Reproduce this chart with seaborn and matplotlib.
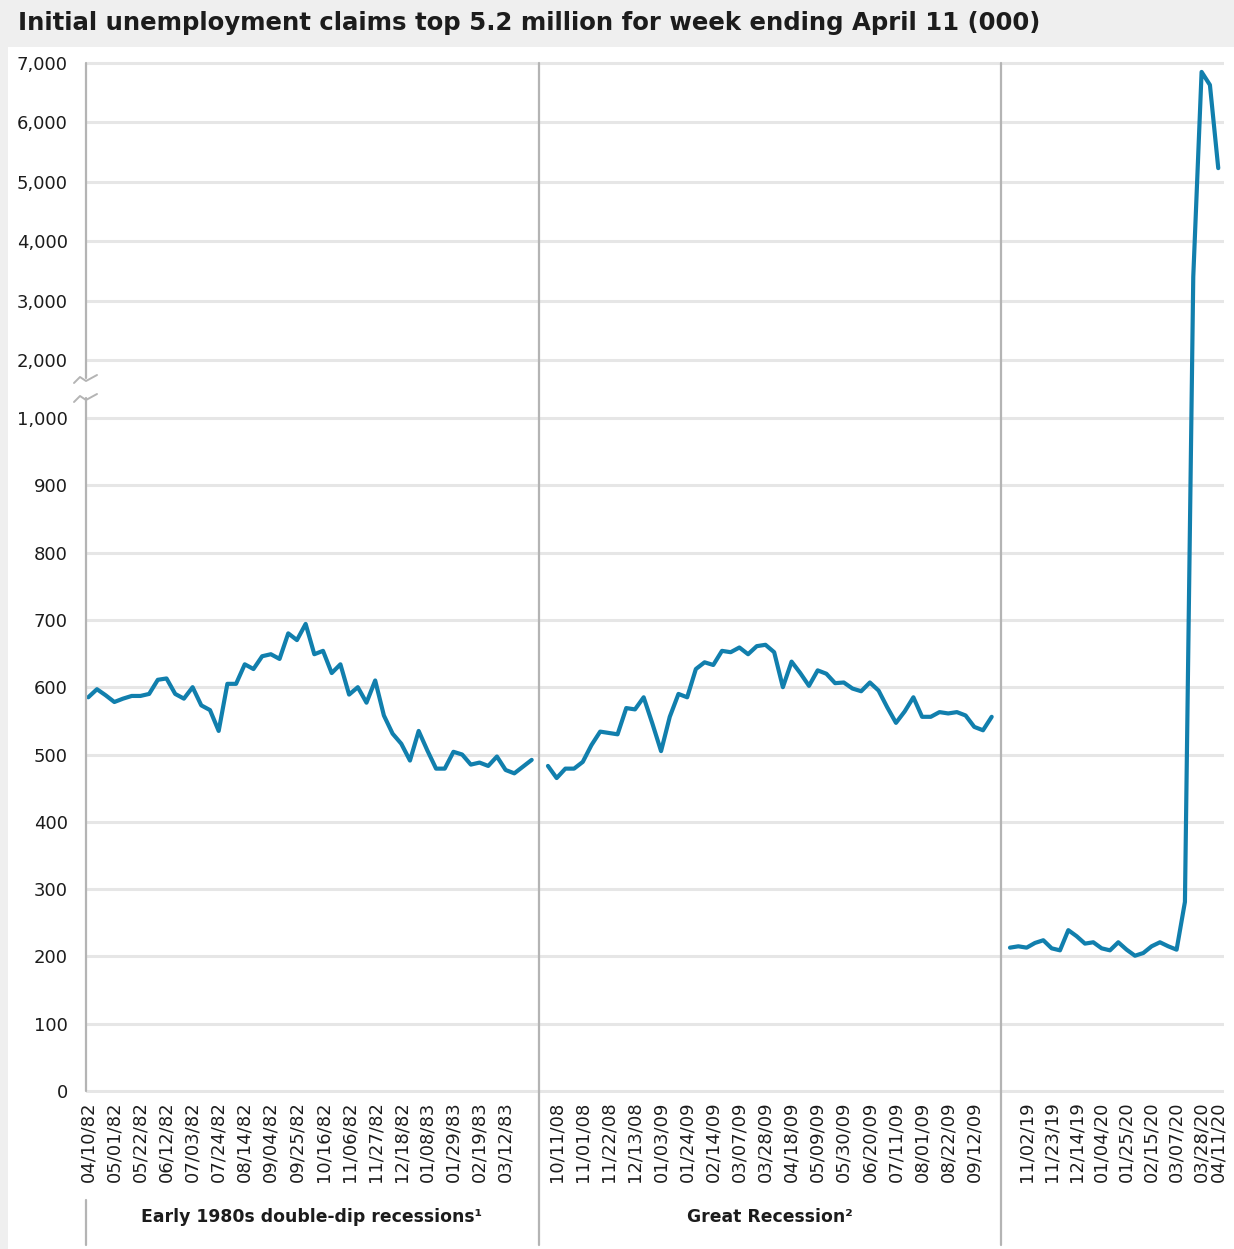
import numpy as np
import pandas as pd
import matplotlib
matplotlib.use("Agg")
import matplotlib.pyplot as plt
import seaborn as sns
from matplotlib.lines import Line2D
from matplotlib.patches import Rectangle

# ---------------- data ----------------
title = "Initial unemployment claims top 5.2 million for week ending April 11 (000)"

start1 = "1982-04-10"
claims1 = [585, 597, 588, 578, 583, 587, 587, 590, 611, 613,
           590, 583, 600, 573, 566, 535, 605, 605, 634, 627,
           646, 649, 642, 680, 670, 694, 649, 654, 621, 634,
           589, 600, 577, 610, 558, 531, 516, 491, 535, 506,
           479, 479, 504, 500, 485, 488, 483, 497, 477, 472,
           482, 492]
ticks1 = ["04/10/82", "05/01/82", "05/22/82", "06/12/82", "07/03/82", "07/24/82",
          "08/14/82", "09/04/82", "09/25/82", "10/16/82", "11/06/82", "11/27/82",
          "12/18/82", "01/08/83", "01/29/83", "02/19/83", "03/12/83"]

start2 = "2008-10-04"
claims2 = [483, 465, 479, 479, 489, 514, 534, 532, 530, 569,
           567, 585, 546, 505, 556, 590, 585, 627, 637, 633,
           654, 652, 659, 649, 661, 663, 652, 600, 638, 621,
           602, 625, 620, 606, 607, 598, 594, 607, 595, 570,
           547, 564, 585, 556, 556, 563, 561, 563, 558, 541,
           536, 556]
ticks2 = ["10/11/08", "11/01/08", "11/22/08", "12/13/08", "01/03/09", "01/24/09",
          "02/14/09", "03/07/09", "03/28/09", "04/18/09", "05/09/09", "05/30/09",
          "06/20/09", "07/11/09", "08/01/09", "08/22/09", "09/12/09"]

start3 = "2019-10-19"
claims3 = [213, 215, 213, 220, 224, 212, 209, 239, 230, 219,
           221, 212, 209, 221, 210, 201, 205, 215, 221, 215,
           210, 281, 3400, 6850, 6630, 5230]
ticks3 = ["11/02/19", "11/23/19", "12/14/19", "01/04/20", "01/25/20",
          "02/15/20", "03/07/20", "03/28/20", "04/11/20"]

segment_names = ["Early 1980s double-dip recessions\u00b9", "Great Recession\u00b2", ""]
yticks = [0, 100, 200, 300, 400, 500, 600, 700, 800, 900, 1000,
          2000, 3000, 4000, 5000, 6000, 7000]

# ---------------- style ----------------
sns.set_style("white")
plt.rcParams["font.family"] = ["DejaVu Sans"]

LINE_C = "#117fad"
GRID_C = "#e6e6e6"
AXIS_C = "#b4b4b4"
TEXT_C = "#1c1c1c"

W, H = 1234, 1249
fig = plt.figure(figsize=(W / 100, H / 100), dpi=100)
fig.patch.set_facecolor("white")

def fx(x):
    return x / W

def fy(y):
    return 1 - y / H

# gray frame (title band + left strip)
fig.add_artist(Rectangle((0, fy(47)), 1, 47 / H, transform=fig.transFigure,
                         facecolor="#efefef", edgecolor="none", zorder=0))
fig.add_artist(Rectangle((0, 0), 8 / W, 1, transform=fig.transFigure,
                         facecolor="#efefef", edgecolor="none", zorder=0))

# broken y scale (piecewise linear, in pixel-like units)
YV = [-1000, 0, 1000, 2000, 7000, 12000]
YP = [-673, 0, 673, 731, 1028, 1325]
fwd = lambda v: np.interp(v, YV, YP)
inv = lambda p: np.interp(p, YP, YV)

y_lo, y_hi = -3, 7050
base_px = 1091
ax_bot = base_px - fwd(y_lo)
ax_top = base_px - fwd(y_hi)

cols = [(86, 539, (-0.26, 51.84)), (539, 1001, (-1.03, 52.07)), (1001, 1224, (-1.08, 25.69))]
series = [(start1, claims1, ticks1), (start2, claims2, ticks2), (start3, claims3, ticks3)]
label_centers = [312, 770, None]

for k, ((l, r, xl), (st, vals, tks)) in enumerate(zip(cols, series)):
    ax = fig.add_axes([fx(l), fy(ax_bot), (r - l) / W, (ax_bot - ax_top) / H])
    ax.set_facecolor("none")
    dates = pd.date_range(st, periods=len(vals), freq="7D")
    df = pd.DataFrame({"week": np.arange(len(vals)), "claims": vals,
                       "label": dates.strftime("%m/%d/%y")})
    ax.set_yscale("function", functions=(fwd, inv))
    sns.lineplot(data=df, x="week", y="claims", ax=ax, color=LINE_C,
                 linewidth=3.0, zorder=3)
    ax.set_ylim(y_lo, y_hi)
    ax.set_xlim(*xl)
    ax.set_xlabel("")
    ax.set_ylabel("")
    for s in ax.spines.values():
        s.set_visible(False)
    ax.set_axisbelow(True)
    ax.yaxis.grid(True, color=GRID_C, linewidth=2.2)
    ax.xaxis.grid(False)
    ax.set_yticks(yticks)
    ax.yaxis.set_minor_locator(matplotlib.ticker.NullLocator())
    pos = df.loc[df["label"].isin(tks), "week"].tolist()
    labs = df.loc[df["label"].isin(tks), "label"].tolist()
    ax.set_xticks(pos)
    ax.set_xticklabels(labs, rotation=90)
    ax.tick_params(axis="x", length=0, pad=6, labelsize=13, labelcolor=TEXT_C)
    if k == 0:
        ax.set_yticklabels([f"{v:,}" for v in yticks])
        ax.tick_params(axis="y", length=6, width=2.2, color=GRID_C, pad=7,
                       labelsize=13, labelcolor=TEXT_C)
        # y axis line, broken
        b1 = inv(base_px - 398)
        b2 = inv(base_px - 378)
        tr = ax.get_yaxis_transform()
        ax.plot([0, 0], [0, b1], transform=tr, color=AXIS_C, lw=1.6, clip_on=False, zorder=4)
        ax.plot([0, 0], [b2, 7000], transform=tr, color=AXIS_C, lw=1.6, clip_on=False, zorder=4)
    else:
        ax.tick_params(axis="y", left=False, labelleft=False)
    if label_centers[k] is not None:
        fig.text(fx(label_centers[k]), fy(1217), segment_names[k], ha="center",
                 va="center", fontsize=12.4, fontweight="bold", color=TEXT_C)

# separators and lower stub
for x, y0, y1 in [(539, 63, 1245), (1001, 63, 1245), (86, 1200, 1245)]:
    fig.add_artist(Line2D([fx(x), fx(x)], [fy(y0), fy(y1)], transform=fig.transFigure,
                          color=AXIS_C, lw=1.6, zorder=5))

# axis break marks
for yc in (380, 399):
    xs = [74, 80, 86, 97]
    ys = [yc + 3, yc - 3, yc + 1, yc - 5]
    fig.add_artist(Line2D([fx(v) for v in xs], [fy(v) for v in ys],
                          transform=fig.transFigure, color=AXIS_C, lw=1.4, zorder=6))

fig.text(fx(18), fy(23), title, ha="left", va="center", fontsize=17.6,
         fontweight="bold", color=TEXT_C)

fig.savefig("out.png", dpi=100)
